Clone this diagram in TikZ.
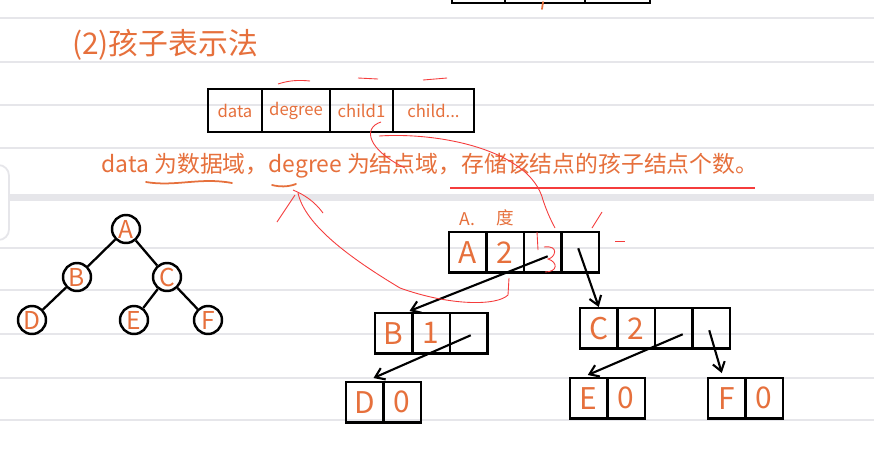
\documentclass[tikz,border=0pt]{standalone}
\usepackage{fontspec}
\setmainfont{Noto Sans CJK SC}
\usetikzlibrary{positioning,arrows.meta,calc}
\definecolor{pen}{RGB}{230,112,60}
\definecolor{redpen}{RGB}{245,60,60}
\definecolor{rule}{RGB}{230,230,234}
\tikzset{
  cell/.style={draw=black,line width=1.4pt,outer sep=0pt,inner sep=0pt,minimum width=0.75cm,minimum height=0.81cm,text=pen,font=\fontsize{17}{17}\selectfont},
  field/.style={cell,minimum height=0.86cm,font=\fontsize{9.5}{11}\selectfont},
  vertex/.style={circle,draw=black,line width=1.4pt,minimum size=0.56cm,inner sep=0pt,text=pen,font=\fontsize{14}{14}\selectfont},
  branch/.style={black,line width=1.3pt},
  link/.style={black,line width=1.2pt,-{Straight Barb[length=5pt,width=7pt]}},
  scribble/.style={redpen,line width=0.5pt},
  ink/.style={pen,line width=1pt,line cap=round}
}
\begin{document}
\begin{tikzpicture}[x=0.02cm,y=-0.02cm]
   \useasboundingbox (0,0) rectangle (874,457);
   \fill [white] (0,0) rectangle (874,457);
   \foreach \y in {18,62,105,148,248,290,334,378,420}
      \draw [rule,line width=1.2pt] (0,\y) -- (874,\y);
   \fill [rule] (0,194) rectangle (874,201);
   \draw [rule,line width=1pt,fill=white,rounded corners=6pt] (-20,165) rectangle (9,240);
   % table left over from the part above
   \draw [black,line width=1.4pt] (452,-10) rectangle (650,3);
   \draw [black,line width=1.4pt] (505,-10) -- (505,3);
   \draw [black,line width=1.4pt] (585,-10) -- (585,3);
   \draw [ink] (543,2) -- (542,9);
   \node [anchor=west,text=pen,font=\fontsize{17}{17}\selectfont] (title) at (66,45) {(2)孩子表示法};
   \node [field,anchor=north west,minimum width=1.08cm] (f1) at (208,89) {data};
   \node [field,right=0pt of f1,minimum width=1.36cm] (f2) {degree};
   \node [field,right=0pt of f2,minimum width=1.26cm] (f3) {child1};
   \node [field,right=0pt of f3,minimum width=1.62cm] (f4) {child...};
   \node [text=pen,font=\fontsize{13}{13}\selectfont] (note) at (430,166) {data 为数据域，degree 为结点域，存储该结点的孩子结点个数。};
   \draw [ink] (146,182) .. controls (175,187) and (200,177) .. (232,183);
   \draw [ink] (272,185) .. controls (280,187) and (288,187) .. (296,184);
   \draw [redpen,line width=1.4pt] (450,188) -- (755,188);
   \draw [scribble] (278,84) .. controls (290,80) and (300,80) .. (310,81);
   \draw [scribble] (358,78) -- (378,79);
   \draw [scribble] (423,80) -- (447,78);
   \node [vertex] (tA) at (126,229) {A};
   \node [vertex] (tB) at (77,277) {B};
   \node [vertex] (tC) at (167,277) {C};
   \node [vertex] (tD) at (32,320) {D};
   \node [vertex] (tE) at (134,320) {E};
   \node [vertex] (tF) at (208,320) {F};
   \draw [branch] (tA) -- (tB);
   \draw [branch] (tA) -- (tC);
   \draw [branch] (tB) -- (tD);
   \draw [branch] (tC) -- (tE);
   \draw [branch] (tC) -- (tF);
   \node [cell,anchor=north west] (a1) at (449,232) {A};
   \node [cell,right=0pt of a1] (a2) {2};
   \node [cell,right=0pt of a2] (a3) {};
   \node [cell,right=0pt of a3] (a4) {};
   \node [cell,anchor=north west] (b1) at (375,313) {B};
   \node [cell,right=0pt of b1] (b2) {1};
   \node [cell,right=0pt of b2] (b3) {};
   \node [cell,anchor=north west] (c1) at (580,308) {C};
   \node [cell,right=0pt of c1] (c2) {2};
   \node [cell,right=0pt of c2] (c3) {};
   \node [cell,right=0pt of c3] (c4) {};
   \node [cell,anchor=north west] (d1) at (346,382) {D};
   \node [cell,right=0pt of d1] (d2) {0};
   \node [cell,anchor=north west] (e1) at (570,378) {E};
   \node [cell,right=0pt of e1] (e2) {0};
   \node [cell,anchor=north west] (g1) at (708,378) {F};
   \node [cell,right=0pt of g1] (g2) {0};
   \node [text=pen,font=\fontsize{10}{10}\selectfont,above=0pt of a1] (nd) {A.};
   \node [text=pen,font=\fontsize{10}{10}\selectfont,above=0pt of a2] (dg) {度};
   \draw [link] ($(a3.center)+(5,4)$) -- ($(b1.north east)+(-3,-2)$);
   \draw [link] ($(a4.center)+(-2,-4)$) -- ($(c1.north)+(0,-1)$);
   \draw [link] ($(b3.center)+(2,2)$) -- ($(d1.north east)+(-10,-4)$);
   \draw [link] ($(c3.center)+(9,6)$) -- ($(e1.north)+(-1,-3)$);
   \draw [link] ($(c4.center)+(-2,2)$) -- ($(g1.north)+(-5,-5)$);
   % red pen marks
   \draw [scribble] (381,122) .. controls (362,128) and (368,150) .. (405,168);
   \draw [scribble] (379,136) .. controls (440,132) and (530,150) .. (543,200) .. controls (548,215) and (552,222) .. (555,228);
   \draw [scribble] (537,232) -- (538,250);
   \draw [scribble] (544,247) .. controls (560,245) and (555,258) .. (548,259) .. controls (558,262) and (558,272) .. (545,272);
   \draw [scribble] (298,193) .. controls (305,225) and (350,258) .. (400,288) .. controls (450,306) and (497,306) .. (508,295) -- (509,278);
   \draw [scribble] (277,222) -- (295,195);
   \draw [scribble] (293,190) .. controls (305,195) and (315,202) .. (323,213);
   \draw [scribble] (592,228) -- (602,212);
   \draw [scribble] (615,241) -- (625,241);
  \end{tikzpicture}
\end{document}
